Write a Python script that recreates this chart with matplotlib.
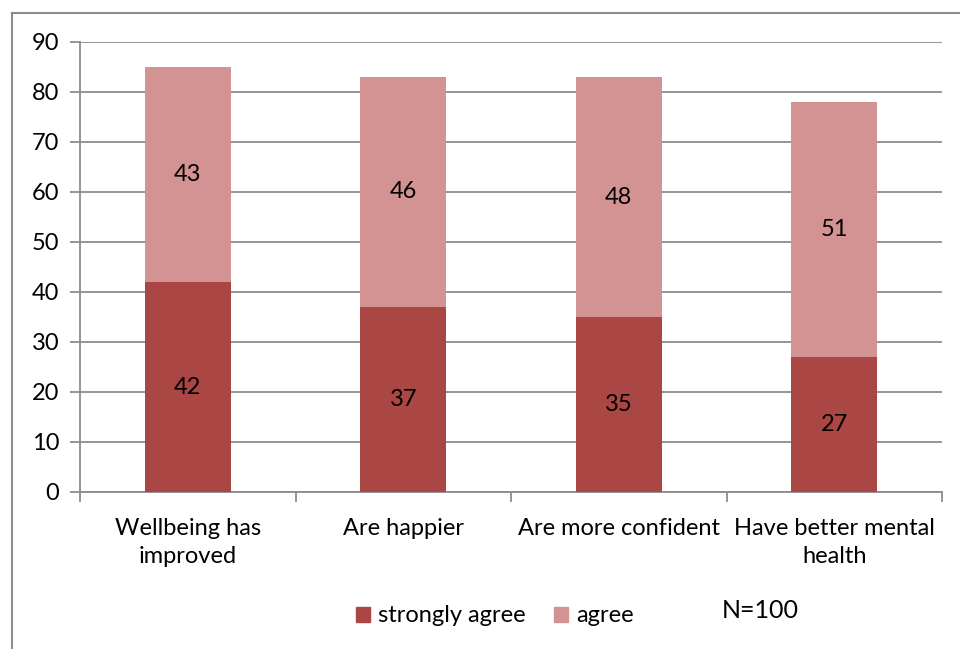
import numpy as np
import matplotlib
matplotlib.use("Agg")
import matplotlib.pyplot as plt
from matplotlib.patches import Patch
from matplotlib.lines import Line2D

categories = ["Wellbeing has\nimproved", "Are happier", "Are more confident",
              "Have better mental\nhealth"]
strongly_agree = [42, 37, 35, 27]
agree = [43, 46, 48, 51]

DARK = "#AA4643"
LIGHT = "#D39392"
GRID = "#8C8C8C"
FS = 17

plt.rcParams["font.family"] = ["Lato", "DejaVu Sans"]

fig = plt.figure(figsize=(9.6, 6.49), dpi=100)
ax = fig.add_axes([80 / 960, 1 - 492 / 649, 862 / 960, 450 / 649])

x = np.arange(len(categories))
ax.bar(x, strongly_agree, width=0.4, color=DARK, zorder=3)
ax.bar(x, agree, width=0.4, bottom=strongly_agree, color=LIGHT, zorder=3)

for i in range(len(categories)):
    ax.text(x[i], strongly_agree[i] / 2, str(strongly_agree[i]),
            ha="center", va="center", fontsize=FS, zorder=4)
    ax.text(x[i], strongly_agree[i] + agree[i] / 2, str(agree[i]),
            ha="center", va="center", fontsize=FS, zorder=4)

ax.set_xlim(-0.5, len(categories) - 0.5)
ax.set_ylim(0, 90)
ax.set_yticks(range(0, 91, 10))
ax.yaxis.grid(True, color=GRID, linewidth=1.3)
ax.set_axisbelow(True)

# category labels sit between the boundary ticks
ax.set_xticks(x)
ax.set_xticklabels(categories, fontsize=FS, linespacing=1.4)
ax.tick_params(axis="x", length=0, pad=19)
ax.set_xticks(np.arange(len(categories) + 1) - 0.5, minor=True)
ax.tick_params(axis="x", which="minor", length=7, color=GRID, width=1.3)
ax.tick_params(axis="y", length=7, color=GRID, width=1.3, labelsize=FS, pad=8)

for side in ["top", "right"]:
    ax.spines[side].set_visible(False)
for side in ["left", "bottom"]:
    ax.spines[side].set_color(GRID)
    ax.spines[side].set_linewidth(1.3)

handles = [Patch(color=DARK, label="strongly agree"),
           Patch(color=LIGHT, label="agree")]
fig.legend(handles=handles, loc="center", bbox_to_anchor=(495 / 960, 1 - 616 / 649),
           ncol=2, frameon=False, fontsize=FS, handlelength=0.6, handleheight=0.6,
           handletextpad=0.35, columnspacing=1.2)
fig.text(722 / 960, 1 - 610 / 649, "N=100", fontsize=18, va="center")

# chart area border (left and top edges)
fig.add_artist(Line2D([12 / 960, 12 / 960], [0, 1 - 13 / 649],
                      color="#8C8C8C", linewidth=1.5, transform=fig.transFigure))
fig.add_artist(Line2D([12 / 960, 1], [1 - 13 / 649, 1 - 13 / 649],
                      color="#8C8C8C", linewidth=1.5, transform=fig.transFigure))

fig.savefig("out.png", dpi=100)
